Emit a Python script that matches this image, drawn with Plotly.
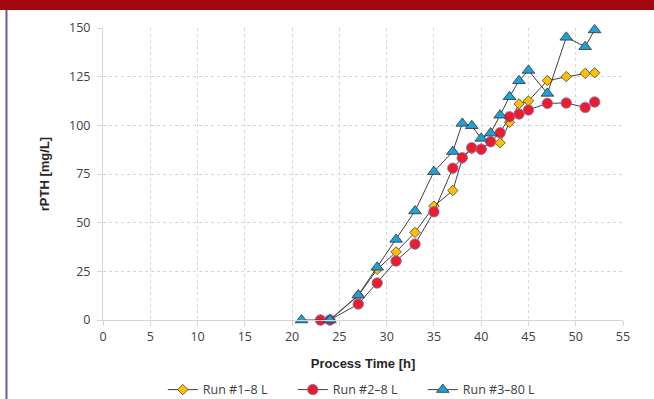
import plotly.graph_objects as go

# ---- data ----
run1_x = [23, 24, 27, 29, 31, 33, 35, 37, 38, 39, 40, 41, 42, 43, 44, 45, 47, 49, 51, 52]
run1_y = [0, 0, 12.5, 26, 35, 45, 58.5, 66.5, 83, 88, 88, 91.5, 91, 101.5, 111, 112.5, 123, 125, 126.7, 127]

run2_x = [23, 24, 27, 29, 31, 33, 35, 37, 38, 39, 40, 41, 42, 43, 44, 45, 47, 49, 51, 52]
run2_y = [0, 0, 8.2, 19, 30.3, 39, 55.6, 78, 83.4, 88.5, 87.7, 91.6, 96.2, 104.4, 105.8, 107.9, 111.3, 111.5, 109.2, 112]

run3_x = [21, 24, 27, 29, 31, 33, 35, 37, 38, 39, 40, 41, 42, 43, 44, 45, 47, 49, 51, 52]
run3_y = [0, 0, 12.8, 27.1, 41.4, 56, 76.2, 86.5, 101, 99.8, 93.3, 96, 105.2, 114.7, 122.9, 128.2, 116.4, 145.2, 140.4, 149]

series_names = ["Run #1\u20138 L", "Run #2\u20138 L", "Run #3\u201380 L"]

x_ticks = [0, 5, 10, 15, 20, 25, 30, 35, 40, 45, 50, 55]
y_ticks = [0, 25, 50, 75, 100, 125, 150]

x_title = "Process Time [h]"
y_title = "rPTH [mg/L]"

LINE = "#3f3f3f"
TICKFONT = dict(family="Open Sans", size=12.5, color="#404040")
TITLEFONT = dict(family="Liberation Sans", size=13, color="#262626")
GRID = "#d6d6d6"

fig = go.Figure()
fig.add_trace(go.Scatter(
    x=run1_x, y=run1_y, name=series_names[0], mode="lines+markers",
    line=dict(color=LINE, width=1),
    marker=dict(symbol="diamond", size=8, color="#ffc000", line=dict(color="#404040", width=0.8)),
    cliponaxis=False,
))
fig.add_trace(go.Scatter(
    x=run2_x, y=run2_y, name=series_names[1], mode="lines+markers",
    line=dict(color=LINE, width=1),
    marker=dict(symbol="circle", size=10.5, color="#ec1c2a", line=dict(color="#7b7bc0", width=0.8)),
    cliponaxis=False,
))
fig.add_trace(go.Scatter(
    x=run3_x, y=run3_y, name=series_names[2], mode="lines+markers",
    line=dict(color=LINE, width=1),
    marker=dict(symbol="triangle-up", size=11, color="#1ea0d8", line=dict(color="#303030", width=0.8)),
    cliponaxis=False,
))

# frame decorations: red band on top, thin blue line at left
fig.add_shape(type="rect", xref="paper", yref="paper",
              x0=-0.21, x1=1.07, y0=1.0613, y1=1.11,
              fillcolor="#a00812", line=dict(width=0), layer="above")
fig.add_shape(type="line", xref="paper", yref="paper",
              x0=-0.1856, x1=-0.1856, y0=1.0613, y1=-0.3,
              line=dict(color="#5d5ea3", width=2))

fig.update_layout(
    width=654, height=399,
    margin=dict(l=103, r=31, t=28, b=79),
    paper_bgcolor="white", plot_bgcolor="white",
    showlegend=True,
    legend=dict(orientation="h", x=0.49, xanchor="center",
                yref="container", y=0.0226, yanchor="middle",
                font=dict(family="Open Sans", size=12.5, color="#404040"),
                itemwidth=30, entrywidth=85, bgcolor="rgba(0,0,0,0)"),
    xaxis=dict(range=[0, 55], tickvals=x_ticks, ticktext=[str(v) for v in x_ticks],
               showgrid=True, gridcolor=GRID, griddash="dot", gridwidth=1,
               showline=True, linecolor=GRID, linewidth=1, zeroline=False,
               ticks="outside", ticklen=5, tickcolor=GRID, automargin=False,
               tickfont=TICKFONT,
               title=dict(text="<b>" + x_title + "</b>", font=TITLEFONT, standoff=14)),
    yaxis=dict(range=[0, 150], tickvals=y_ticks, ticktext=[str(v) for v in y_ticks],
               showgrid=True, gridcolor=GRID, griddash="dot", gridwidth=1,
               showline=True, linecolor=GRID, linewidth=1, zeroline=False,
               ticks="outside", ticklen=5, tickcolor=GRID, automargin=False,
               tickfont=TICKFONT, ticklabelstandoff=4,
               title=dict(text="<b>" + y_title + "</b>", font=TITLEFONT, standoff=16)),
)

fig.write_html("out.html", config={"displayModeBar": False},
               post_script="document.body.style.margin='0';")
